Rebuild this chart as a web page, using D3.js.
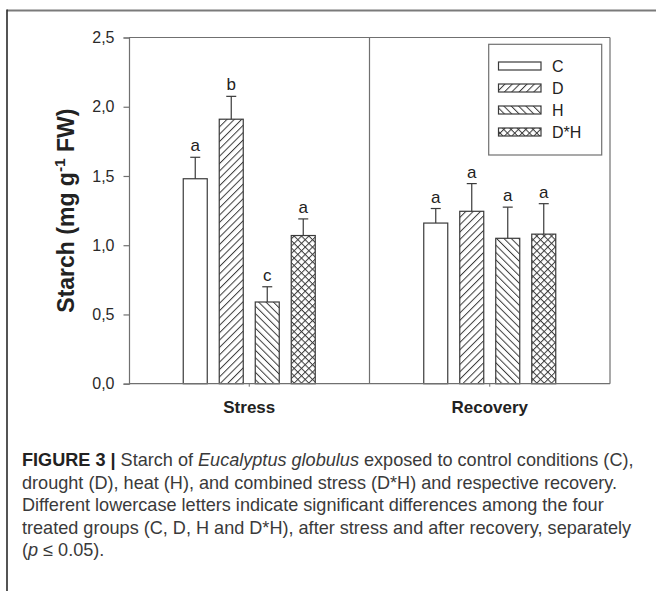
<!DOCTYPE html>
<html>
<head>
<meta charset="utf-8">
<script src="https://cdn.jsdelivr.net/npm/d3@7"></script>
<style>
  html, body { margin: 0; padding: 0; background: #fff; }
  svg { display: block; font-family: "Liberation Sans", Arial, Helvetica, sans-serif; }
</style>
</head>
<body>
<svg id="chart" width="656" height="591"></svg>
<script>
// Starch content per treatment, after stress and after recovery
const phases = ["Stress", "Recovery"];
const treatments = ["C", "D", "H", "D*H"];
const stressMeans = [1.48, 1.91, 0.59, 1.07];
const stressErrors = [0.155, 0.165, 0.11, 0.12];
const stressLetters = ["a", "b", "c", "a"];
const recoveryMeans = [1.16, 1.245, 1.05, 1.08];
const recoveryErrors = [0.105, 0.20, 0.225, 0.22];
const recoveryLetters = ["a", "a", "a", "a"];
const yTicks = [0, 0.5, 1.0, 1.5, 2.0, 2.5];

const rows = [];
phases.forEach((phase, p) => {
  const means = p === 0 ? stressMeans : recoveryMeans;
  const errs = p === 0 ? stressErrors : recoveryErrors;
  const letters = p === 0 ? stressLetters : recoveryLetters;
  treatments.forEach((t, i) => rows.push({ phase, t, mean: means[i], err: errs[i], letter: letters[i] }));
});

const svg = d3.select("#chart");
const plot = { left: 129, right: 610, top: 37.5, bottom: 383.7 };

const x = d3.scaleBand().domain(phases).range([plot.left, plot.right]);
const xInner = d3.scaleBand().domain(treatments).range([0, 144]).paddingInner(1 / 3).paddingOuter(1 / 6);
const y = d3.scaleLinear().domain([0, 2.5]).range([plot.bottom, plot.top]);
const groupStart = ph => x(ph) + x.bandwidth() / 2 - 72;

// Hatch patterns for the treatments
const defs = svg.append("defs");
function hatch(id, angles) {
  const pat = defs.append("pattern").attr("id", id)
    .attr("patternUnits", "userSpaceOnUse").attr("width", 5.2).attr("height", 5.2);
  pat.attr("patternTransform", `rotate(${angles[0]})`);
  pat.append("rect").attr("width", 5.2).attr("height", 5.2).attr("fill", "#fff");
  pat.append("line").attr("x1", 0.5).attr("x2", 0.5).attr("y1", 0).attr("y2", 5.2)
    .attr("stroke", "#3c3c3c").attr("stroke-width", 1);
  if (angles.length > 1) {
    pat.append("line").attr("x1", 0).attr("x2", 5.2).attr("y1", 0.5).attr("y2", 0.5)
      .attr("stroke", "#3c3c3c").attr("stroke-width", 1);
  }
}
hatch("hatch-d", [45]);
hatch("hatch-h", [-45]);
hatch("hatch-dh", [45, -45]);
const fills = { "C": "#fff", "D": "url(#hatch-d)", "H": "url(#hatch-h)", "D*H": "url(#hatch-dh)" };

// Figure frame
svg.append("line").attr("x1", 7).attr("x2", 656).attr("y1", 10.5).attr("y2", 10.5)
  .attr("stroke", "#7a7a7a").attr("stroke-width", 2);
svg.append("line").attr("x1", 7).attr("x2", 7).attr("y1", 9.5).attr("y2", 591)
  .attr("stroke", "#2a2a2a").attr("stroke-width", 1.6);

const axisColor = "#707070";

// Bars
svg.append("g").selectAll("rect").data(rows).join("rect")
  .attr("x", d => groupStart(d.phase) + xInner(d.t))
  .attr("y", d => y(d.mean))
  .attr("width", xInner.bandwidth())
  .attr("height", d => y(0) - y(d.mean))
  .attr("fill", d => fills[d.t])
  .attr("stroke", "#3a3a3a").attr("stroke-width", 1.2);

// Error bars (upper half)
const eb = svg.append("g").attr("stroke", "#3a3a3a").attr("stroke-width", 1.2);
const cx = d => groupStart(d.phase) + xInner(d.t) + xInner.bandwidth() / 2;
eb.selectAll("line.v").data(rows).join("line").attr("class", "v")
  .attr("x1", cx).attr("x2", cx)
  .attr("y1", d => y(d.mean)).attr("y2", d => y(d.mean + d.err));
eb.selectAll("line.c").data(rows).join("line").attr("class", "c")
  .attr("x1", d => cx(d) - 5).attr("x2", d => cx(d) + 5)
  .attr("y1", d => y(d.mean + d.err)).attr("y2", d => y(d.mean + d.err));

// Significance letters
svg.append("g").selectAll("text").data(rows).join("text")
  .attr("x", cx)
  .attr("y", d => y(d.mean + d.err) - 6)
  .attr("text-anchor", "middle")
  .attr("font-size", 17).attr("fill", "#222")
  .text(d => d.letter);

// Plot box and divider
const box = svg.append("g").attr("stroke", axisColor).attr("stroke-width", 1.2).attr("fill", "none");
box.append("line").attr("x1", plot.left).attr("x2", plot.right).attr("y1", plot.top).attr("y2", plot.top);
box.append("line").attr("x1", plot.right).attr("x2", plot.right).attr("y1", plot.top).attr("y2", plot.bottom);
box.append("line").attr("x1", x("Recovery")).attr("x2", x("Recovery")).attr("y1", plot.top).attr("y2", plot.bottom);

// Y axis
const yAxis = svg.append("g").attr("transform", `translate(${plot.left},0)`)
  .call(d3.axisLeft(y).tickValues(yTicks).tickSize(5.5).tickPadding(9)
    .tickFormat(d => d3.format(".1f")(d).replace(".", ",")));
yAxis.select(".domain").attr("stroke", axisColor).attr("stroke-width", 1.2);
yAxis.selectAll(".tick line").attr("stroke", axisColor).attr("stroke-width", 1.2);
yAxis.selectAll(".tick text").attr("font-size", 16).attr("fill", "#2a2a2a")
  .attr("font-family", "Liberation Sans, Arial, sans-serif");

// X axis
const xAxis = svg.append("g").attr("transform", `translate(0,${plot.bottom})`)
  .call(d3.axisBottom(x).tickSize(3).tickPadding(14));
xAxis.select(".domain").attr("stroke", axisColor).attr("stroke-width", 1.2)
  .attr("d", `M${plot.left},0H${plot.right}`);
xAxis.selectAll(".tick line").attr("stroke", axisColor).attr("stroke-width", 1);
xAxis.selectAll(".tick text").attr("font-size", 17).attr("font-weight", "bold").attr("fill", "#222")
  .attr("font-family", "Liberation Sans, Arial, sans-serif");

// Y axis title
const yTitle = svg.append("text")
  .attr("transform", `translate(74,${(plot.top + plot.bottom) / 2}) rotate(-90)`)
  .attr("text-anchor", "middle")
  .attr("font-size", 23).attr("font-weight", "bold").attr("fill", "#222");
yTitle.append("tspan").text("Starch (mg g");
yTitle.append("tspan").attr("dy", -9).attr("font-size", 15.5).text("-1");
yTitle.append("tspan").attr("dy", 9).text(" FW)");

// Legend
const legend = svg.append("g");
legend.append("rect").attr("x", 488.7).attr("y", 44.3).attr("width", 113).attr("height", 110.7)
  .attr("fill", "#fff").attr("stroke", axisColor).attr("stroke-width", 1.2);
treatments.forEach((t, i) => {
  const cy = 66 + 22 * i;
  legend.append("rect").attr("x", 498.5).attr("y", cy - 4).attr("width", 42.5).attr("height", 8)
    .attr("fill", fills[t]).attr("stroke", "#3a3a3a").attr("stroke-width", 1.2);
  legend.append("text").attr("x", 552).attr("y", cy + 6)
    .attr("font-size", 16).attr("fill", "#222").text(t);
});

// Caption
const cap = svg.append("g").attr("font-size", 18.1).attr("fill", "#3a3a3a");
const l1 = cap.append("text").attr("x", 22).attr("y", 466);
l1.append("tspan").attr("font-weight", "bold").attr("fill", "#222").text("FIGURE 3 | ");
l1.append("tspan").text("Starch of ");
l1.append("tspan").attr("font-style", "italic").text("Eucalyptus globulus");
l1.append("tspan").text(" exposed to control conditions (C),");
cap.append("text").attr("x", 22).attr("y", 488.5).text("drought (D), heat (H), and combined stress (D*H) and respective recovery.");
cap.append("text").attr("x", 22).attr("y", 511).text("Different lowercase letters indicate significant differences among the four");
cap.append("text").attr("x", 22).attr("y", 533.5).text("treated groups (C, D, H and D*H), after stress and after recovery, separately");
const l5 = cap.append("text").attr("x", 22).attr("y", 556);
l5.append("tspan").text("(");
l5.append("tspan").attr("font-style", "italic").text("p");
l5.append("tspan").text(" ≤ 0.05).");
</script>
</body>
</html>
